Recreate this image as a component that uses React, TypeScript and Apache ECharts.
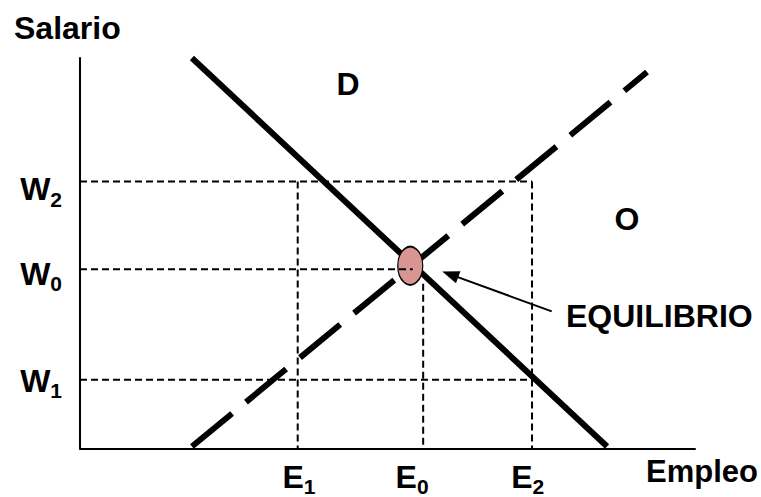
import React, { useEffect, useRef } from "react";
import * as echarts from "echarts";

// Values (axis units 0..100 on both axes)
const demandCurve = [
  [18.2, 100],
  [85.7, 0.5],
];
const supplyCurve = [
  [18.2, 0.5],
  [92.2, 96.4],
];
const wageLevels = [17.6, 45.9, 68.4]; // W1, W0, W2
const employmentLevels = [35.4, 55.8, 73.5]; // E1, E0, E2
const w0GuideEnd = 54.1;
const e0GuideTop = 42.2;
const equilibriumPoint = [53.7, 46.8];
const arrowStart = [76.7, 35.1];
const arrowEnd = [60.2, 44.6];

// Tick labels
const wageTickAt = [17.4, 44.8, 66.4];
const wageTickSubs = ["1", "0", "2"];
const empTickAt = [35.6, 54.0, 72.8];
const empTickSubs = ["1", "0", "2"];

const FONT = '"Liberation Sans", Arial, sans-serif';

function subLabel(base: string, at: number[], subs: string[]) {
  return (v: number) => {
    let best = 0;
    for (let i = 1; i < at.length; i++) {
      if (Math.abs(at[i] - v) < Math.abs(at[best] - v)) best = i;
    }
    return `{m|${base}}{s|${subs[best]}}`;
  };
}

const rich = {
  m: { fontSize: 32, fontWeight: "bold", fontFamily: FONT, color: "#000", lineHeight: 32 },
  s: {
    fontSize: 21,
    fontWeight: "bold",
    fontFamily: FONT,
    color: "#000",
    height: 12,
    lineHeight: 12,
    verticalAlign: "bottom",
  },
};

export default function App() {
  const ref = useRef<HTMLDivElement>(null);
  useEffect(() => {
    if (!ref.current) return;
    const chart = echarts.init(ref.current, null, { renderer: "svg" });
    const [W1, W0, W2] = wageLevels;
    const [E1, E0, E2] = employmentLevels;
    const guide = (data: number[][]) => ({
      type: "line",
      data,
      symbol: "none",
      silent: true,
      clip: false,
      z: 4,
      lineStyle: { color: "#000", width: 2, type: [7, 4] },
    });
    chart.setOption({
      animation: false,
      backgroundColor: "#fff",
      grid: { left: 80, right: 66, top: 58, bottom: 46 },
      xAxis: {
        type: "value",
        min: 0,
        max: 100,
        splitLine: { show: false },
        axisTick: { show: false },
        axisLine: { onZero: false, lineStyle: { color: "#000", width: 2 } },
        axisLabel: {
          customValues: empTickAt,
          margin: 12,
          formatter: subLabel("E", empTickAt, empTickSubs),
          rich,
        },
      },
      yAxis: {
        type: "value",
        min: 0,
        max: 100,
        splitLine: { show: false },
        axisTick: { show: false },
        axisLine: { onZero: false, lineStyle: { color: "#000", width: 2 } },
        axisLabel: {
          customValues: wageTickAt,
          margin: 18,
          formatter: subLabel("W", wageTickAt, wageTickSubs),
          rich,
        },
      },
      series: [
        {
          name: "D",
          type: "line",
          data: demandCurve,
          symbol: "none",
          clip: false,
          z: 2,
          lineStyle: { color: "#000", width: 6 },
        },
        {
          name: "O",
          type: "line",
          data: supplyCurve,
          symbol: "none",
          clip: false,
          z: 2,
          lineStyle: { color: "#000", width: 6, type: [52, 18], cap: "butt" },
        },
        {
          name: "Equilibrio",
          type: "scatter",
          data: [equilibriumPoint],
          symbol: "circle",
          symbolSize: [25, 38],
          z: 3,
          itemStyle: { color: "#d99594", borderColor: "#000", borderWidth: 1.5, opacity: 1 },
          markLine: {
            silent: true,
            symbol: ["none", "triangle"],
            symbolSize: [13, 17],
            label: { show: false },
            lineStyle: { color: "#000", width: 2, type: "solid" },
            data: [[{ coord: arrowStart }, { coord: arrowEnd }]],
          },
        },
        guide([
          [0, W2],
          [E2, W2],
        ]),
        guide([
          [0, W1],
          [E2, W1],
        ]),
        guide([
          [0, W0],
          [w0GuideEnd, W0],
        ]),
        guide([
          [E1, W2],
          [E1, 0],
        ]),
        guide([
          [E2, W2],
          [E2, 0],
        ]),
        guide([
          [E0, e0GuideTop],
          [E0, 0],
        ]),
      ],
      graphic: [
        {
          type: "text",
          x: 14,
          y: 28,
          style: { text: "Salario", font: `bold 32px ${FONT}`, fill: "#000", verticalAlign: "middle", align: "left" },
        },
        {
          type: "text",
          x: 646,
          y: 471,
          style: { text: "Empleo", font: `bold 31px ${FONT}`, fill: "#000", verticalAlign: "middle", align: "left" },
        },
        {
          type: "text",
          x: 348,
          y: 84,
          style: { text: "D", font: `bold 32px ${FONT}`, fill: "#000", verticalAlign: "middle", align: "center" },
        },
        {
          type: "text",
          x: 627,
          y: 218.5,
          style: { text: "O", font: `bold 32px ${FONT}`, fill: "#000", verticalAlign: "middle", align: "center" },
        },
        {
          type: "text",
          x: 566,
          y: 316,
          style: { text: "EQUILIBRIO", font: `bold 32px ${FONT}`, fill: "#000", verticalAlign: "middle", align: "left" },
        },
      ],
    });
    return () => chart.dispose();
  }, []);
  return (
    <div
      ref={ref}
      style={{ position: "fixed", left: 0, top: 0, width: 761, height: 497, background: "#fff" }}
    />
  );
}
